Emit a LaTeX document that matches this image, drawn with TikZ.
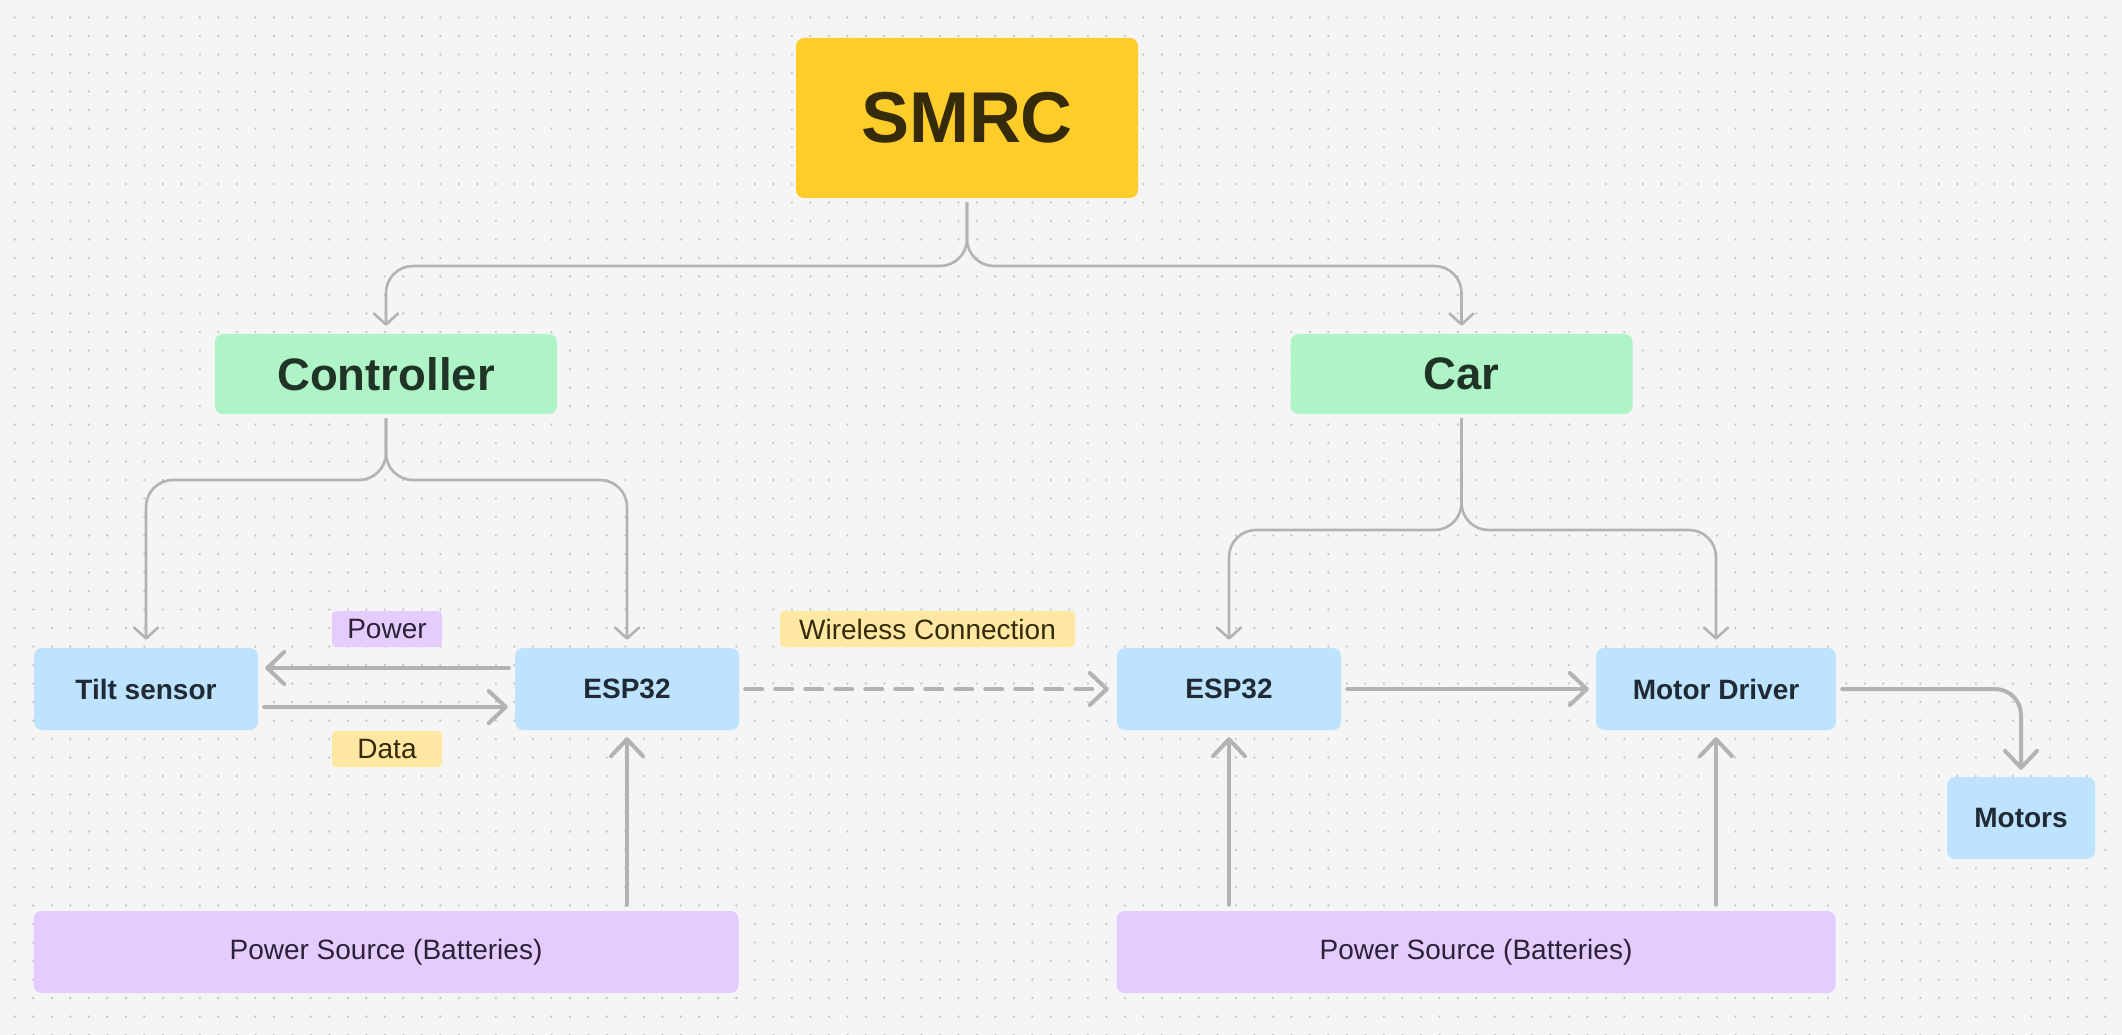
\documentclass[tikz,border=0pt]{standalone}
\usepackage{fontspec}
\setmainfont{Liberation Sans}
\usetikzlibrary{arrows.meta}
\definecolor{cbg}{HTML}{F5F5F5}
\definecolor{cdot}{HTML}{C6C6C6}
\definecolor{cline}{HTML}{B3B3B3}
\definecolor{cyellow}{HTML}{FFCD29}
\definecolor{tyellow}{HTML}{352A0A}
\definecolor{cgreen}{HTML}{AFF4C6}
\definecolor{tgreen}{HTML}{1F3326}
\definecolor{cblue}{HTML}{BDE3FF}
\definecolor{tblue}{HTML}{1F2A35}
\definecolor{cpurple}{HTML}{E4CCFF}
\definecolor{tpurple}{HTML}{2B2238}
\definecolor{clabel}{HTML}{FFE8A3}
\tikzset{
  box/.style={rounded corners=8pt, inner sep=0pt, align=center},
  titlebox/.style={box, fill=cyellow, text=tyellow, font=\fontsize{72}{76}\selectfont\bfseries, minimum width=342pt, minimum height=160pt},
  greenbox/.style={box, fill=cgreen, text=tgreen, font=\fontsize{45.5}{50}\selectfont\bfseries, minimum width=342pt, minimum height=80pt},
  bluebox/.style={box, fill=cblue, text=tblue, font=\fontsize{28}{32}\selectfont\bfseries, minimum height=82pt},
  purplebox/.style={box, fill=cpurple, text=tpurple, font=\fontsize{28}{32}\selectfont, minimum height=82pt},
  tag/.style={rounded corners=4pt, inner sep=0pt, font=\fontsize{28}{32}\selectfont, minimum height=36pt},
  link/.style={draw=cline, line width=4pt, line cap=round, line join=round, -{Straight Barb[length=17pt,width=32pt,round]}, shorten <=6pt, shorten >=7pt},
  treelink/.style={draw=cline, line width=2.6pt, rounded corners=27pt, -{Straight Barb[length=11pt,width=24pt,round]}, shorten <=4pt, shorten >=8pt},
  gridline/.style={draw=cdot, line width=2.6pt, line cap=round, dash pattern=on 0pt off 18.5pt}
}
\begin{document}
\begin{tikzpicture}[x=1pt,y=-1pt]
\useasboundingbox (0,0) rectangle (2122,1035);
\fill[cbg] (0,0) rectangle (2122,1035);
\foreach \r in {0,...,55} \draw[gridline] (14.8,{17.5+\r*18.5}) -- (2122,{17.5+\r*18.5});

% nodes
\node[titlebox] (smrc) at (967,118) {SMRC};
\node[greenbox] (ctrl) at (386,374) {Controller};
\node[greenbox] (car) at (1461.5,374) {Car};
\node[bluebox, minimum width=224pt] (tilt) at (146,689) {Tilt sensor};
\node[bluebox, minimum width=224pt] (esp1) at (627,689) {ESP32};
\node[bluebox, minimum width=224pt] (esp2) at (1229,689) {ESP32};
\node[bluebox, minimum width=240pt] (md) at (1716,689) {Motor Driver};
\node[bluebox, minimum width=148pt] (motors) at (2021,818) {Motors};
\node[purplebox, minimum width=705pt] (ps1) at (386,952) {Power Source (Batteries)};
\node[purplebox, minimum width=719pt] (ps2) at (1476,952) {Power Source (Batteries)};
\node[tag, fill=cpurple, text=tpurple, minimum width=110pt] (lpow) at (387,629) {Power};
\node[tag, fill=clabel, text=tyellow, minimum width=110pt] (ldat) at (387,749) {Data};
\node[tag, fill=clabel, text=tyellow, minimum width=295pt] (lwire) at (927.5,629) {Wireless Connection};

% junction coordinates
\coordinate (j0) at (967,266);
\coordinate (j1) at (386,480);
\coordinate (j2) at (1461.5,530);

% tree connectors
\draw[treelink] (smrc.south) -- (j0) -| (ctrl.north);
\draw[treelink] (smrc.south) -- (j0) -| (car.north);
\draw[treelink] (ctrl.south) -- (j1) -| (tilt.north);
\draw[treelink] (ctrl.south) -- (j1) -| (esp1.north);
\draw[treelink] (car.south) -- (j2) -| (esp2.north);
\draw[treelink] (car.south) -- (j2) -| (md.north);

% signal connectors
\draw[link] ([yshift=21pt]esp1.west) -- ([yshift=21pt]tilt.east);
\draw[link] ([yshift=-18pt]tilt.east) -- ([yshift=-18pt]esp1.west);
\draw[link, dash pattern=on 17pt off 13pt, shorten >=8pt] (esp1.east) -- (esp2.west);
\draw[link] (esp2.east) -- (md.west);
\draw[link, rounded corners=26pt] (md.east) -| (motors.north);
\draw[link] (esp1.south |- ps1.north) -- (esp1.south);
\draw[link] (esp2.south |- ps2.north) -- (esp2.south);
\draw[link] (md.south |- ps2.north) -- (md.south);
\end{tikzpicture}
\end{document}
